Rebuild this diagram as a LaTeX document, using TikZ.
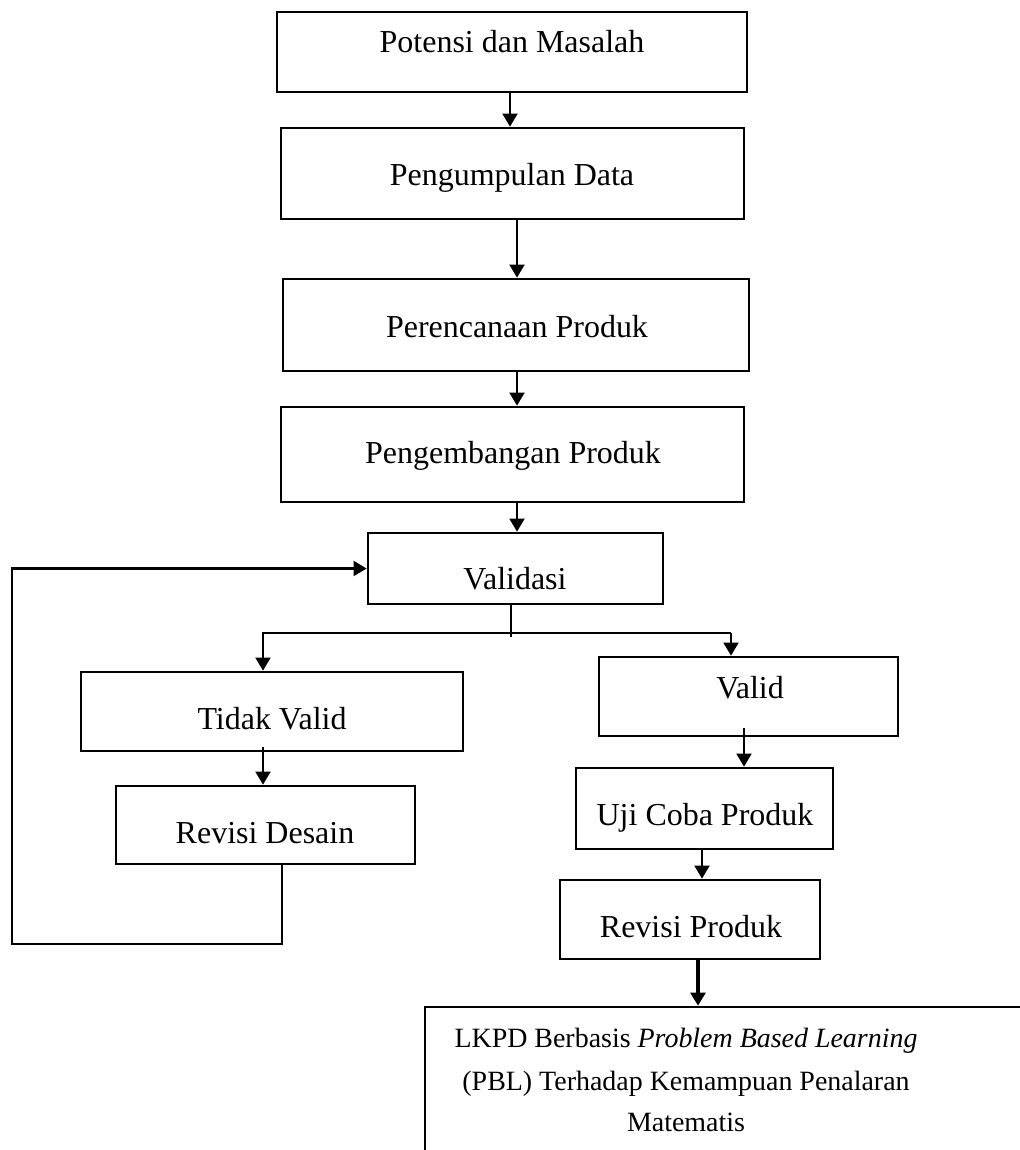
\documentclass[tikz,border=0pt]{standalone}
\usepackage{fontspec}
\setmainfont{Liberation Serif}
\usetikzlibrary{fit,arrows.meta,calc}
\begin{document}
\begin{tikzpicture}[x=0.02cm,y=-0.02cm,
  box/.style={draw, line width=1.5pt, inner sep=0pt},
  txt/.style={anchor=base, inner sep=0pt, font=\fontsize{18.2}{23}\selectfont},
  smalltxt/.style={anchor=base, inner sep=0pt, font=\fontsize{15.9}{23}\selectfont},
  arr/.style={line width=1.4pt, -{Triangle[length=7.5pt,width=8.5pt]}},
  thickarr/.style={line width=2.4pt, -{Triangle[length=7.5pt,width=8.5pt]}},
  ln/.style={line width=1.4pt}]
\useasboundingbox (0,0) rectangle (1020,1150);
\clip (0,0) rectangle (1020,1150);
% boxes
\node[box, fit={(277,12)(747,92)}] (b1) {};
\node[box, fit={(281,128)(744,219)}] (b2) {};
\node[box, fit={(283,279)(749,371)}] (b3) {};
\node[box, fit={(281,407)(744,502)}] (b4) {};
\node[box, fit={(368,533)(663,604)}] (val) {};
\node[box, fit={(81,672)(463,751)}] (tv) {};
\node[box, fit={(116,786)(415,864)}] (rd) {};
\node[box, fit={(599,657)(898,736)}] (vd) {};
\node[box, fit={(576,768)(833,849)}] (uji) {};
\node[box, fit={(560,880)(820,959)}] (rp) {};
\node[box, fit={(425,1007)(1080,1220)}] (lk) {};
% texts
\node[txt] (t1) at (512,52) {Potensi dan Masalah};
\node[txt] (t2) at (512,185) {Pengumpulan Data};
\node[txt] (t3) at (517,337) {Perencanaan Produk};
\node[txt] (t4) at (513,463) {Pengembangan Produk};
\node[txt] (t5) at (515,589) {Validasi};
\node[txt] (t6) at (272,729) {Tidak Valid};
\node[txt] (t7) at (265,843) {Revisi Desain};
\node[txt] (t8) at (750,698) {Valid};
\node[txt] (t9) at (705,825) {Uji Coba Produk};
\node[txt] (t10) at (691,937) {Revisi Produk};
\node[smalltxt] (t11) at (686,1047) {LKPD Berbasis \textit{Problem Based Learning}};
\node[smalltxt] (t12) at (686,1090) {(PBL) Terhadap Kemampuan Penalaran};
\node[smalltxt] (t13) at (686,1131) {Matematis};
% connector x positions
\coordinate (x1) at (510,0);
\coordinate (x2) at (517,0);
\coordinate (x5) at (511,0);
\coordinate (xL) at (263,0);
\coordinate (xR) at (731,0);
\coordinate (x7) at (744,0);
\coordinate (x8) at (702,0);
\coordinate (x9) at (698,0);
\coordinate (xb) at (282,0);
\coordinate (lp) at (12,0);
\coordinate (br) at (0,633);
\coordinate (lb) at (0,944);
% connectors
\draw[arr] (b1.south -| x1) -- (b2.north -| x1);
\draw[arr] (b2.south -| x2) -- (b3.north -| x2);
\draw[arr] (b3.south -| x2) -- (b4.north -| x2);
\draw[arr] (b4.south -| x2) -- (val.north -| x2);
\draw[ln] (val.south -| x5) -- ($(x5 |- br)+(0,4)$);
\draw[arr] (xR |- br) -- (xL |- br) -- (tv.north -| xL);
\draw[arr] (xR |- br) -- (vd.north -| xR);
\draw[arr] ($(tv.south -| xL)+(0,-5)$) -- (rd.north -| xL);
\draw[arr] ($(vd.south -| x7)+(0,-9)$) -- (uji.north -| x7);
\draw[arr] (uji.south -| x8) -- (rp.north -| x8);
\draw[thickarr] (rp.south -| x9) -- (lk.north -| x9);
\draw[arr] (rd.south -| xb) -- (xb |- lb) -- (lp |- lb) -- (lp |- val.west) -- (val.west);
\end{tikzpicture}
\end{document}
